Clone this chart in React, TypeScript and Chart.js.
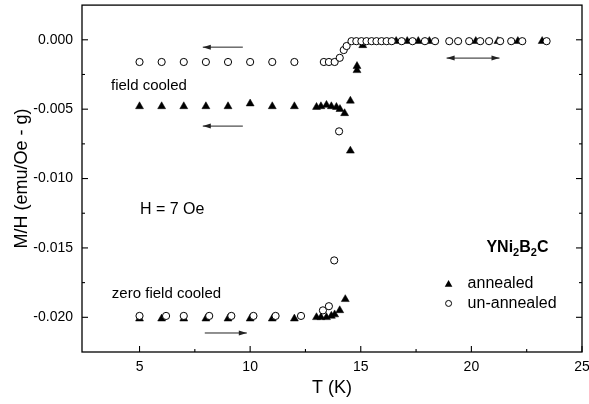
import React, { useEffect, useRef } from "react";
import { Chart, registerables } from "chart.js";

Chart.register(...registerables);

const FONT = "'Liberation Sans', Arial, Helvetica, sans-serif";

// ---- Annealed sample (filled triangles) ----
const annealedFcT = [5, 6, 7, 8, 9, 10, 11, 12, 13.0, 13.2, 13.45, 13.67, 13.9, 14.06, 14.27, 14.53, 14.53, 14.83, 14.83, 15.09];
const annealedFcM = [-0.0048, -0.0048, -0.0048, -0.0048, -0.0048, -0.0046, -0.0048, -0.0048, -0.00485, -0.0048, -0.0047, -0.0048, -0.00485, -0.005, -0.0053, -0.0044, -0.008, -0.0019, -0.0022, -0.0004];
const annealedZfcT = [5, 6, 7, 8, 9, 10, 11, 12, 13.0, 13.2, 13.45, 13.67, 13.82, 14.05, 14.3];
const annealedZfcM = [-0.0201, -0.0201, -0.0201, -0.0201, -0.0201, -0.0201, -0.0201, -0.0201, -0.02, -0.02, -0.02, -0.0199, -0.0198, -0.0195, -0.0187];
const annealedNormalT = [16.6, 17.1, 17.6, 18.1, 20.2, 21.2, 22.1, 23.2];
const annealedNormalM = [-0.0001, -0.0001, -0.0001, -0.0001, -0.0001, -0.0001, -0.0001, -0.0001];

// ---- Un-annealed sample (open circles) ----
const unannealedFcT = [5, 6, 7, 8, 9, 10, 11, 12, 13.33, 13.56, 13.82, 14.05, 14.23, 14.36, 14.02];
const unannealedFcM = [-0.0016, -0.0016, -0.0016, -0.0016, -0.0016, -0.0016, -0.0016, -0.0016, -0.0016, -0.0016, -0.0016, -0.0013, -0.00074, -0.00045, -0.0066];
const unannealedZfcT = [5.0, 6.2, 7.0, 8.15, 9.15, 10.15, 11.15, 12.3, 13.29, 13.56, 13.8];
const unannealedZfcM = [-0.0199, -0.0199, -0.0199, -0.0199, -0.0199, -0.0199, -0.0199, -0.0199, -0.0195, -0.0192, -0.0159];
const unannealedNormalT = [14.58, 14.8, 15.03, 15.26, 15.49, 15.71, 15.94, 16.17, 16.4, 16.85, 17.34, 17.9, 18.36, 19.0, 19.4, 19.9, 20.4, 20.8, 21.3, 21.8, 22.3, 23.4];
const unannealedNormalM = [-0.0001, -0.0001, -0.0001, -0.0001, -0.0001, -0.0001, -0.0001, -0.0001, -0.0001, -0.0001, -0.0001, -0.0001, -0.0001, -0.0001, -0.0001, -0.0001, -0.0001, -0.0001, -0.0001, -0.0001, -0.0001, -0.0001];

// ---- Axes ----
const xMin = 2.4;
const xMax = 25;
const xTickValues = [5, 10, 15, 20, 25];
const yMin = -0.0225;
const yMax = 0.0025;
const yTickValues = [-0.02, -0.015, -0.01, -0.005, 0];

// ---- Annotations (data coordinates) ----
const textNotes = [
  { text: "field cooled", x: 3.71, y: -0.0033, size: 15 },
  { text: "zero field cooled", x: 3.75, y: -0.0183, size: 15 },
  { text: "H = 7 Oe", x: 5.02, y: -0.01227, size: 16 },
];
const arrowNotes = [
  { from: 9.67, to: 7.86, y: -0.00053, both: false },
  { from: 9.67, to: 7.86, y: -0.00622, both: false },
  { from: 7.95, to: 9.85, y: -0.02113, both: false },
  { from: 18.88, to: 21.27, y: -0.00132, both: true },
];
const compoundLabel = { parts: ["YNi", "2", "B", "2", "C"], x: 20.68, y: -0.015 };
const legendItems = [
  { label: "annealed", marker: "triangle", x: 18.97, textX: 19.83, y: -0.0176 },
  { label: "un-annealed", marker: "circle", x: 18.97, textX: 19.83, y: -0.019 },
];

const zip = (t: number[], m: number[]) => t.map((v, i) => ({ x: v, y: m[i] }));

function arrowHead(ctx: CanvasRenderingContext2D, x: number, y: number, dir: number) {
  ctx.beginPath();
  ctx.moveTo(x, y);
  ctx.lineTo(x - dir * 8, y - 2.5);
  ctx.lineTo(x - dir * 8, y + 2.5);
  ctx.closePath();
  ctx.fill();
}

const framePlugin = {
  id: "frameAndNotes",
  afterDraw(chart: any) {
    const { ctx, chartArea: a, scales } = chart;
    const xs = scales.x;
    const ys = scales.y;
    ctx.save();
    ctx.strokeStyle = "#000";
    ctx.fillStyle = "#000";
    ctx.lineWidth = 1.3;
    ctx.strokeRect(a.left, a.top, a.right - a.left, a.bottom - a.top);

    const line = (x1: number, y1: number, x2: number, y2: number) => {
      ctx.beginPath();
      ctx.moveTo(x1, y1);
      ctx.lineTo(x2, y2);
      ctx.stroke();
    };

    // inward ticks
    ctx.lineWidth = 1.1;
    const xv = xs.ticks.map((t: any) => t.value);
    xv.forEach((v: number, i: number) => {
      const px = xs.getPixelForValue(v);
      line(px, a.bottom, px, a.bottom - 6);
      if (i < xv.length - 1) {
        const pm = xs.getPixelForValue((v + xv[i + 1]) / 2);
        line(pm, a.bottom, pm, a.bottom - 3);
      }
    });
    const yv = ys.ticks.map((t: any) => t.value);
    yv.forEach((v: number, i: number) => {
      const py = ys.getPixelForValue(v);
      line(a.left, py, a.left + 6, py);
      line(a.right, py, a.right - 6, py);
      if (i < yv.length - 1) {
        const pm = ys.getPixelForValue((v + yv[i + 1]) / 2);
        line(a.left, pm, a.left + 3, pm);
        line(a.right, pm, a.right - 3, pm);
      }
    });

    // arrows
    ctx.strokeStyle = "#222";
    ctx.fillStyle = "#222";
    ctx.lineWidth = 1;
    arrowNotes.forEach((ar) => {
      const x1 = xs.getPixelForValue(ar.from);
      const x2 = xs.getPixelForValue(ar.to);
      const py = ys.getPixelForValue(ar.y);
      line(x1, py, x2, py);
      const dir = x2 > x1 ? 1 : -1;
      arrowHead(ctx, x2, py, dir);
      if (ar.both) arrowHead(ctx, x1, py, -dir);
    });

    // texts
    ctx.fillStyle = "#000";
    ctx.textBaseline = "middle";
    ctx.textAlign = "left";
    textNotes.forEach((n) => {
      ctx.font = `${n.size}px ${FONT}`;
      ctx.fillText(n.text, xs.getPixelForValue(n.x), ys.getPixelForValue(n.y));
    });

    // compound formula with subscripts
    let cx = xs.getPixelForValue(compoundLabel.x);
    const cy = ys.getPixelForValue(compoundLabel.y);
    compoundLabel.parts.forEach((p, i) => {
      const sub = i % 2 === 1;
      ctx.font = sub ? `bold 11px ${FONT}` : `bold 16px ${FONT}`;
      ctx.fillText(p, cx, sub ? cy + 5 : cy);
      cx += ctx.measureText(p).width;
    });

    // legend
    legendItems.forEach((it) => {
      const mx = xs.getPixelForValue(it.x);
      const my = ys.getPixelForValue(it.y);
      ctx.lineWidth = 1;
      if (it.marker === "triangle") {
        ctx.beginPath();
        ctx.moveTo(mx, my - 4);
        ctx.lineTo(mx + 3.8, my + 2.8);
        ctx.lineTo(mx - 3.8, my + 2.8);
        ctx.closePath();
        ctx.fillStyle = "#000";
        ctx.fill();
      } else {
        ctx.beginPath();
        ctx.arc(mx, my, 3, 0, Math.PI * 2);
        ctx.strokeStyle = "#000";
        ctx.stroke();
      }
      ctx.fillStyle = "#000";
      ctx.font = `16px ${FONT}`;
      ctx.fillText(it.label, xs.getPixelForValue(it.textX), my);
    });
    ctx.restore();
  },
};

export default function App() {
  const ref = useRef<HTMLCanvasElement | null>(null);
  useEffect(() => {
    if (!ref.current) return;
    const chart = new Chart(ref.current, {
      type: "scatter",
      data: {
        datasets: [
          {
            label: "un-annealed",
            data: [
              ...zip(unannealedFcT, unannealedFcM),
              ...zip(unannealedZfcT, unannealedZfcM),
              ...zip(unannealedNormalT, unannealedNormalM),
            ],
            pointStyle: "circle",
            pointRadius: 3.6,
            backgroundColor: "#fff",
            borderColor: "#000",
            borderWidth: 1,
            showLine: false,
          },
          {
            label: "annealed",
            data: [
              ...zip(annealedFcT, annealedFcM),
              ...zip(annealedZfcT, annealedZfcM),
              ...zip(annealedNormalT, annealedNormalM),
            ],
            pointStyle: "triangle",
            pointRadius: 4.6,
            backgroundColor: "#000",
            borderColor: "#000",
            borderWidth: 0.5,
            showLine: false,
          },
        ],
      },
      options: {
        animation: false,
        responsive: false,
        layout: { padding: { left: 0, right: 7, top: 5, bottom: 0 } },
        plugins: { legend: { display: false }, tooltip: { enabled: false } },
        scales: {
          x: {
            type: "linear",
            min: xMin,
            max: xMax,
            grid: { display: false, drawTicks: false, tickLength: 0 },
            border: { display: false },
            ticks: {
              padding: 7,
              color: "#000",
              font: { family: FONT, size: 14 },
              maxRotation: 0,
            },
            afterBuildTicks: (s: any) => {
              s.ticks = xTickValues.map((v) => ({ value: v }));
            },
            title: {
              display: true,
              text: "T (K)",
              color: "#000",
              font: { family: FONT, size: 18 },
              padding: { top: 0, bottom: 5 },
            },
            afterFit: (s: any) => {
              s.height = 52;
              s.paddingLeft = 0;
              s.paddingRight = 0;
            },
          },
          y: {
            type: "linear",
            min: yMin,
            max: yMax,
            grid: { display: false, drawTicks: false, tickLength: 0 },
            border: { display: false },
            ticks: {
              padding: 9,
              color: "#000",
              font: { family: FONT, size: 14 },
              callback: (v: any) => (Math.abs(v) < 1e-9 ? "0.000" : Number(v).toFixed(3)),
            },
            afterBuildTicks: (s: any) => {
              s.ticks = yTickValues.map((v) => ({ value: v }));
            },
            title: {
              display: true,
              text: "M/H (emu/Oe - g)",
              color: "#000",
              font: { family: FONT, size: 18 },
              padding: { top: 11, bottom: 0 },
            },
            afterFit: (s: any) => {
              s.width = 82;
              s.paddingTop = 0;
              s.paddingBottom = 0;
            },
          },
        },
      },
      plugins: [framePlugin],
    });
    return () => chart.destroy();
  }, []);
  return (
    <div style={{ position: "absolute", left: 0, top: 0, width: 589, height: 404, background: "#fff" }}>
      <canvas ref={ref} width={589} height={404} style={{ display: "block" }} />
    </div>
  );
}
